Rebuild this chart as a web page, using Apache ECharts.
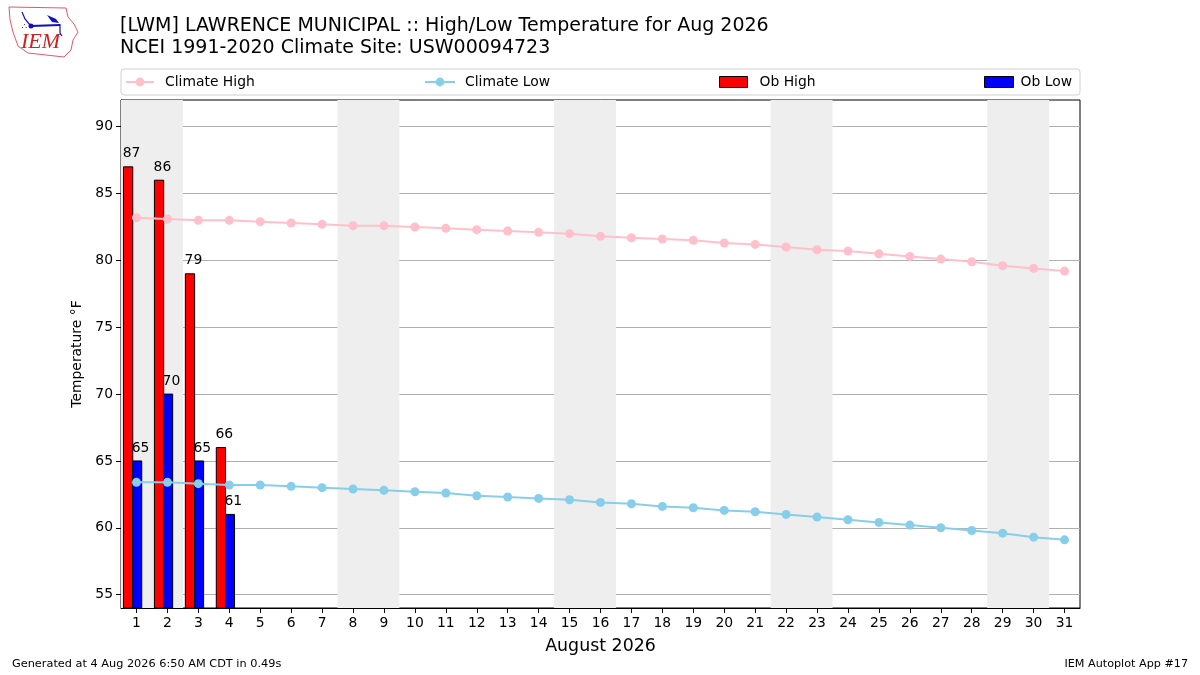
<!DOCTYPE html>
<html>
<head>
<meta charset="utf-8">
<script src="https://cdn.jsdelivr.net/npm/echarts@6/dist/echarts.min.js"></script>
<style>
html,body{margin:0;padding:0;background:#fff;}
#chart{width:1200px;height:675px;}
</style>
</head>
<body>
<div id="chart"></div>
<script>
const days = [1,2,3,4,5,6,7,8,9,10,11,12,13,14,15,16,17,18,19,20,21,22,23,24,25,26,27,28,29,30,31];
const climateHigh = [83.2,83.1,83.0,83.0,82.9,82.8,82.7,82.6,82.6,82.5,82.4,82.3,82.2,82.1,82.0,81.8,81.7,81.6,81.5,81.3,81.2,81.0,80.8,80.7,80.5,80.3,80.1,79.9,79.6,79.4,79.2];
const climateLow = [63.4,63.4,63.3,63.2,63.2,63.1,63.0,62.9,62.8,62.7,62.6,62.4,62.3,62.2,62.1,61.9,61.8,61.6,61.5,61.3,61.2,61.0,60.8,60.6,60.4,60.2,60.0,59.8,59.6,59.3,59.1];
const obDays = [1,2,3,4];
const obHigh = [87,86,79,66];
const obLow = [65,70,65,61];
const yTicks = [55,60,65,70,75,80,85,90];
const weekends = [[0.5,2.5],[7.5,9.5],[14.5,16.5],[21.5,23.5],[28.5,30.5]];
const titleLines = ['[LWM] LAWRENCE MUNICIPAL :: High/Low Temperature for Aug 2026','NCEI 1991-2020 Climate Site: USW00094723'];

const Y_MIN = 54, Y_MAX = 92;
const FONT = 'DejaVu Sans';
const FS = 13.9;

function barSeries(name, values, x0, x1, lx, color) {
  return {
    name: name, type: 'custom', xAxisIndex: 0, yAxisIndex: 0, z: 3,
    itemStyle: {color: color},
    data: obDays.map((d, i) => [d, values[i]]),
    clip: true,
    renderItem: function (params, api) {
      const d = api.value(0), v = api.value(1);
      const tl = api.coord([d + x0, v]);
      const br = api.coord([d + x1, Y_MIN]);
      const lab = api.coord([d + lx, v]);
      return {
        type: 'group',
        children: [
          {type: 'rect', shape: {x: tl[0], y: tl[1], width: br[0] - tl[0], height: br[1] - tl[1]},
           style: {fill: color, stroke: '#000', lineWidth: 1}},
          {type: 'text', style: {text: String(v), x: lab[0], y: tl[1] - 6, align: 'center', verticalAlign: 'bottom',
           font: FS + 'px "' + FONT + '"', fill: '#000'}}
        ]
      };
    }
  };
}

function legendItem(item, left, top, w, pad) {
  return {data: [item], left: left, top: top, itemWidth: w, itemHeight: 11, padding: 0,
    textStyle: {fontFamily: FONT, fontSize: FS, color: '#000', padding: [0, 0, 0, pad]}};
}

const chart = echarts.init(document.getElementById('chart'), null, {renderer: 'canvas'});
const option = {
  animation: false,
  backgroundColor: '#fff',
  textStyle: {fontFamily: FONT},
  title: [
    {text: titleLines[0], left: 120, top: 17, padding: 0, textStyle: {fontFamily: FONT, fontSize: 19, fontWeight: 'normal', color: '#000'}},
    {text: titleLines[1], left: 120, top: 39, padding: 0, textStyle: {fontFamily: FONT, fontSize: 19, fontWeight: 'normal', color: '#000'}},
    {text: 'Generated at 4 Aug 2026 6:50 AM CDT in 0.49s', left: 12, top: 659, padding: 0, textStyle: {fontFamily: FONT, fontSize: 11.3, fontWeight: 'normal', color: '#000'}},
    {text: 'IEM Autoplot App #17', right: 12, top: 659, padding: 0, textStyle: {fontFamily: FONT, fontSize: 11.2, fontWeight: 'normal', color: '#000'}}
  ],
  legend: [
    legendItem({name: 'Climate High'}, 125, 75, 28, 6),
    legendItem({name: 'Climate Low'}, 424, 75, 30, 5),
    legendItem({name: 'Ob High', icon: 'rect', itemStyle: {color: 'red', borderColor: '#000', borderWidth: 1}}, 719, 75, 28, 7),
    legendItem({name: 'Ob Low', icon: 'rect', itemStyle: {color: 'blue', borderColor: '#000', borderWidth: 1}}, 984, 75, 29, 2)
  ],
  grid: {left: 121, top: 100, right: 120, bottom: 67, show: true, borderColor: '#000', borderWidth: 1, backgroundColor: 'transparent'},
  xAxis: [{
    type: 'value', min: 0.5, max: 31.5,
    name: 'August 2026', nameLocation: 'middle', nameGap: 30,
    nameTextStyle: {fontFamily: FONT, fontSize: 17.4, color: '#000'},
    axisLine: {show: true, lineStyle: {color: '#000'}},
    axisTick: {show: true, customValues: days, length: 5, lineStyle: {color: '#000'}},
    axisLabel: {customValues: days, fontFamily: FONT, fontSize: FS, color: '#000', margin: 8},
    splitLine: {show: false}
  }],
  yAxis: [{
    type: 'value', min: Y_MIN, max: Y_MAX,
    name: 'Temperature °F', nameLocation: 'middle', nameGap: 33, nameRotate: 90,
    nameTextStyle: {fontFamily: FONT, fontSize: FS, color: '#000'},
    axisLine: {show: true, lineStyle: {color: '#000'}},
    axisTick: {show: true, customValues: yTicks, length: 5, lineStyle: {color: '#000'}},
    axisLabel: {customValues: yTicks, fontFamily: FONT, fontSize: FS, color: '#000', margin: 8},
    splitLine: {show: true, lineStyle: {color: '#b0b0b0', width: 1}}
  }],
  graphic: [
    {type: 'rect', shape: {x: 121, y: 69, width: 959, height: 26, r: 3}, style: {fill: 'rgba(255,255,255,0.8)', stroke: '#d0d0d0', lineWidth: 1}, z: -1},
    // IEM logo
    {type: 'polygon', shape: {points: [[9,7],[66,8],[68,17],[74,24],[78,32],[73,40],[71,50],[64,57],[28,53],[18,46],[13,32],[10,20]]}, style: {fill: '#fff', stroke: '#e05a6a', lineWidth: 1}},
    {type: 'text', style: {text: 'IEM', x: 21, y: 31, font: 'italic 22px "Liberation Serif"', fill: '#d02020'}},
    {type: 'polyline', shape: {points: [[31,26],[60,25]]}, style: {stroke: '#1010c0', lineWidth: 2}},
    {type: 'circle', shape: {cx: 31, cy: 26, r: 2.5}, style: {fill: '#1010c0'}},
    {type: 'polyline', shape: {points: [[22,12],[25,19],[30,25]]}, style: {stroke: '#1010c0', lineWidth: 1.2}},
    {type: 'polygon', shape: {points: [[47,15],[56,19],[59,23],[52,22]]}, style: {fill: '#1010c0'}},
    {type: 'polyline', shape: {points: [[60,24],[60,33],[62,36]]}, style: {stroke: '#1010c0', lineWidth: 1.2}},
    {type: 'text', style: {text: '∴', x: 22, y: 23, font: '8px "DejaVu Sans"', fill: '#1010c0'}}
  ],
  series: [
    {
      name: 'weekend', type: 'line', data: [], z: 0, silent: true,
      markArea: {silent: true, itemStyle: {color: '#eeeeee'},
        data: weekends.map(w => [{xAxis: w[0], yAxis: Y_MIN}, {xAxis: w[1], yAxis: Y_MAX}])}
    },
    barSeries('Ob High', obHigh, -0.42, -0.12, -0.16, 'red'),
    barSeries('Ob Low', obLow, -0.12, 0.17, 0.13, 'blue'),
    {
      name: 'Climate High', type: 'line', z: 4,
      data: days.map((d, i) => [d, climateHigh[i]]),
      symbol: 'circle', symbolSize: 9, showSymbol: true,
      lineStyle: {color: 'pink', width: 2}, itemStyle: {color: 'pink'}
    },
    {
      name: 'Climate Low', type: 'line', z: 4,
      data: days.map((d, i) => [d, climateLow[i]]),
      symbol: 'circle', symbolSize: 9, showSymbol: true,
      lineStyle: {color: 'skyblue', width: 2}, itemStyle: {color: 'skyblue'}
    }
  ]
};
chart.setOption(option);
</script>
</body>
</html>
